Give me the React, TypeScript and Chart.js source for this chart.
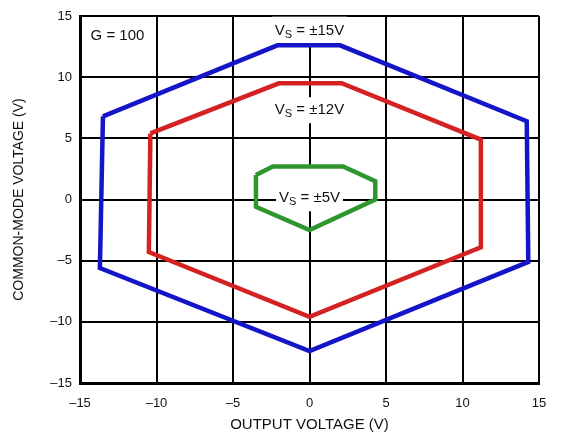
import React, { useEffect, useRef } from "react";
import { Chart, registerables } from "chart.js";

Chart.register(...registerables);

// Axis ticks
const xTickValues = [-15, -10, -5, 0, 5, 10, 15];
const yTickValues = [-15, -10, -5, 0, 5, 10, 15];

// V_S = ±15V boundary
const vs15X = [-13.5, -2.1, 2.0, 14.2, 14.3, 0, -13.7, -13.5];
const vs15Y = [6.8, 12.6, 12.6, 6.4, -5.1, -12.4, -5.6, 6.8];
// V_S = ±12V boundary
const vs12X = [-10.4, -2.0, 2.1, 11.2, 11.2, 0, -10.5, -10.4];
const vs12Y = [5.4, 9.5, 9.5, 4.9, -3.9, -9.6, -4.3, 5.4];
// V_S = ±5V boundary
const vs5X = [-3.5, -2.4, 2.2, 4.3, 4.3, 0, -3.5, -3.5];
const vs5Y = [2.0, 2.7, 2.7, 1.5, 0, -2.5, -0.6, 2.0];

const seriesNames = ["VS = ±15V", "VS = ±12V", "VS = ±5V"];
const seriesColors = ["#1414c8", "#d42222", "#2e962e"];

type Label = {
  main: string;
  sub?: string;
  rest?: string;
  x: number;
  y: number;
  box?: [number, number, number]; // [padX, padTop, padBottom]
};

const labels: Label[] = [
  { main: "G = 100", x: -12.55, y: 13.4 },
  { main: "V", sub: "S", rest: " = ±15V", x: 0, y: 13.8, box: [3, 14, 14] },
  { main: "V", sub: "S", rest: " = ±12V", x: 0, y: 7.3, box: [3, 13, 13] },
  { main: "V", sub: "S", rest: " = ±5V", x: 0, y: 0.1, box: [3, 32, 13] },
];

const FONT = '"Liberation Sans", Arial, sans-serif';
const MAIN_FONT = `15px ${FONT}`;
const SUB_FONT = `11px ${FONT}`;

function measureLabel(ctx: CanvasRenderingContext2D, l: Label) {
  ctx.font = MAIN_FONT;
  const wMain = ctx.measureText(l.main).width;
  const wRest = l.rest ? ctx.measureText(l.rest).width : 0;
  ctx.font = SUB_FONT;
  const wSub = l.sub ? ctx.measureText(l.sub).width : 0;
  return { wMain, wSub, wRest, total: wMain + wSub + wRest };
}

const annotPlugin = {
  id: "annot",
  beforeDatasetsDraw(chart: any) {
    const ctx: CanvasRenderingContext2D = chart.ctx;
    const xs = chart.scales.x;
    const ys = chart.scales.y;
    ctx.save();
    ctx.fillStyle = "#ffffff";
    for (const l of labels) {
      if (!l.box) continue;
      const m = measureLabel(ctx, l);
      const cx = xs.getPixelForValue(l.x);
      const cy = ys.getPixelForValue(l.y);
      ctx.fillRect(
        cx - m.total / 2 - l.box[0],
        cy - l.box[1],
        m.total + 2 * l.box[0],
        l.box[1] + l.box[2]
      );
    }
    ctx.restore();
  },
  afterDatasetsDraw(chart: any) {
    const ctx: CanvasRenderingContext2D = chart.ctx;
    const xs = chart.scales.x;
    const ys = chart.scales.y;
    ctx.save();
    ctx.fillStyle = "#111111";
    ctx.textBaseline = "middle";
    ctx.textAlign = "left";
    for (const l of labels) {
      const m = measureLabel(ctx, l);
      const cx = xs.getPixelForValue(l.x);
      const cy = ys.getPixelForValue(l.y);
      let x = cx - m.total / 2;
      ctx.font = MAIN_FONT;
      ctx.fillText(l.main, x, cy);
      x += m.wMain;
      if (l.sub) {
        ctx.font = SUB_FONT;
        ctx.fillText(l.sub, x, cy + 4);
        x += m.wSub;
      }
      if (l.rest) {
        ctx.font = MAIN_FONT;
        ctx.fillText(l.rest, x, cy);
      }
    }
    ctx.restore();
  },
};

function fmt(v: number) {
  return v < 0 ? "–" + Math.abs(v) : String(v);
}

export default function App() {
  const ref = useRef<HTMLCanvasElement | null>(null);

  useEffect(() => {
    if (!ref.current) return;
    const xsets = [vs15X, vs12X, vs5X];
    const ysets = [vs15Y, vs12Y, vs5Y];
    const datasets = xsets.map((xs, i) => ({
      label: seriesNames[i],
      data: xs.map((x, j) => ({ x, y: ysets[i][j] })),
      showLine: true,
      borderColor: seriesColors[i],
      backgroundColor: seriesColors[i],
      borderWidth: 4.5,
      pointRadius: 0,
      tension: 0,
      borderJoinStyle: "miter" as const,
      fill: false,
    }));

    const chart = new Chart(ref.current, {
      type: "scatter",
      data: { datasets },
      options: {
        animation: false,
        responsive: false,
        maintainAspectRatio: false,
        layout: { padding: { left: 0, right: 23, top: 16, bottom: 0 } },
        plugins: {
          legend: { display: false },
          tooltip: { enabled: false },
        },
        scales: {
          x: {
            type: "linear",
            min: -15,
            max: 15,
            afterBuildTicks: (s: any) => {
              s.ticks = xTickValues.map((v) => ({ value: v }));
            },
            afterFit: (s: any) => {
              s.height = 52;
            },
            grid: { color: "#000", lineWidth: 2, drawTicks: false },
            border: { color: "#000", width: 3 },
            ticks: {
              color: "#111",
              font: { family: FONT, size: 13 },
              padding: 13,
              maxRotation: 0,
              callback: (v: any) => fmt(Number(v)),
            },
            title: {
              display: true,
              text: "OUTPUT VOLTAGE (V)",
              color: "#111",
              font: { family: FONT, size: 15 },
              padding: { top: 0, bottom: 1 },
            },
          },
          y: {
            type: "linear",
            min: -15,
            max: 15,
            afterBuildTicks: (s: any) => {
              s.ticks = yTickValues.map((v) => ({ value: v }));
            },
            afterFit: (s: any) => {
              s.width = 80;
            },
            grid: { color: "#000", lineWidth: 2, drawTicks: false },
            border: { color: "#000", width: 3 },
            ticks: {
              color: "#111",
              font: { family: FONT, size: 13 },
              padding: 8,
              callback: (v: any) => fmt(Number(v)),
            },
            title: {
              display: true,
              text: "COMMON-MODE VOLTAGE (V)",
              color: "#111",
              font: { family: FONT, size: 14 },
              padding: { top: 11, bottom: 0 },
            },
          },
        },
      },
      plugins: [annotPlugin],
    });
    return () => chart.destroy();
  }, []);

  return (
    <div
      style={{
        position: "fixed",
        left: 0,
        top: 0,
        width: 562,
        height: 435,
        background: "#fff",
      }}
    >
      <canvas ref={ref} width={562} height={435} />
    </div>
  );
}
